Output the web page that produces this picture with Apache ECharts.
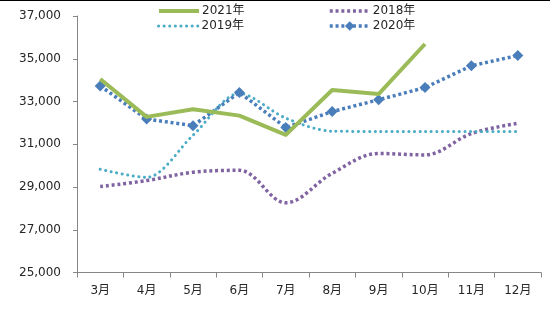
<!DOCTYPE html>
<html>
<head>
<meta charset="utf-8">
<script src="https://cdn.jsdelivr.net/npm/echarts@6/dist/echarts.min.js"></script>
<style>
html,body{margin:0;padding:0;background:#fff;}
#c{width:550px;height:322px;}
</style>
</head>
<body>
<div id="c"></div>
<script>
var categories = ['3月','4月','5月','6月','7月','8月','9月','10月','11月','12月'];
var s2021 = [34050, 32280, 32640, 32340, 31440, 33540, 33350, 35690];
var s2018 = [29020, 29300, 29690, 29780, 28260, 29640, 30570, 30500, 31500, 31980];
var s2019 = [29830, 29450, 31420, 33380, 32220, 31610, 31600, 31600, 31600, 31600];
var s2020 = [33730, 32180, 31870, 33420, 31780, 32530, 33080, 33650, 34670, 35150];
var yTicks = [25000, 27000, 29000, 31000, 33000, 35000, 37000];

var FONT = '"DejaVu Sans", "Noto Sans CJK SC", sans-serif';
var TXT = '#262626';
var HIDDEN = 'rgba(0,0,0,0)';
var chart = echarts.init(document.getElementById('c'), null, {renderer: 'canvas'});

function lg(name, left, top, w) {
  return {
    data: [name], left: left, top: top, itemWidth: 40, itemHeight: 12, itemGap: 0,
    lineStyle: {width: w},
    textStyle: {fontFamily: FONT, fontSize: 12, color: TXT, padding: [0, 0, 0, -2]},
    padding: 0
  };
}

chart.setOption({
  animation: false,
  backgroundColor: '#fff',
  graphic: [{type: 'rect', left: 0, top: 0, shape: {width: 550, height: 1}, style: {fill: '#000'}}],
  legend: [lg('2021年', 157, 5, 4), lg('2018年', 328, 5, 3.5), lg('2019年', 157, 20, 3), lg('2020年', 328, 20, 3.5)],
  grid: {left: 77, right: 9, top: 16, bottom: 49.5, containLabel: false},
  xAxis: {
    type: 'category', data: categories, boundaryGap: true,
    axisLine: {lineStyle: {color: '#868686', width: 1}},
    axisTick: {show: true, length: 5, lineStyle: {color: '#868686'}},
    axisLabel: {fontFamily: FONT, fontSize: 12, color: TXT, margin: 12}
  },
  yAxis: {
    type: 'value', min: yTicks[0], max: yTicks[yTicks.length - 1], interval: 2000,
    splitLine: {show: false},
    axisLine: {show: true, lineStyle: {color: '#868686', width: 1}},
    axisTick: {show: true, length: 4, lineStyle: {color: '#868686'}},
    axisLabel: {fontFamily: FONT, fontSize: 12, color: TXT, margin: 16,
      formatter: function (v) { return v.toLocaleString('en-US'); }}
  },
  series: [
    {name: '2021年', type: 'line', data: s2021, symbol: 'circle', showSymbol: false, smooth: false,
      itemStyle: {color: HIDDEN, borderWidth: 0},
      lineStyle: {color: '#9BBB59', width: 4, cap: 'butt', join: 'round'}, z: 5},
    {name: '2018年', type: 'line', data: s2018, symbol: 'circle', showSymbol: false, smooth: 0.35,
      itemStyle: {color: HIDDEN, borderWidth: 0},
      lineStyle: {color: '#8064A2', width: 3.5, type: [3, 2.8]}, z: 2},
    {name: '2019年', type: 'line', data: s2019, symbol: 'circle', showSymbol: false, smooth: 0.3,
      itemStyle: {color: HIDDEN, borderWidth: 0},
      lineStyle: {color: '#4BACC6', width: 3, type: [0.1, 5.5], cap: 'round'}, z: 3},
    {name: '2020年', type: 'line', data: s2020, symbol: 'diamond', symbolSize: 11, showSymbol: true,
      itemStyle: {color: '#4A7EBB', borderWidth: 0},
      lineStyle: {color: '#4A7EBB', width: 3.5, type: [3, 2.8]}, z: 4}
  ]
});
</script>
</body>
</html>
